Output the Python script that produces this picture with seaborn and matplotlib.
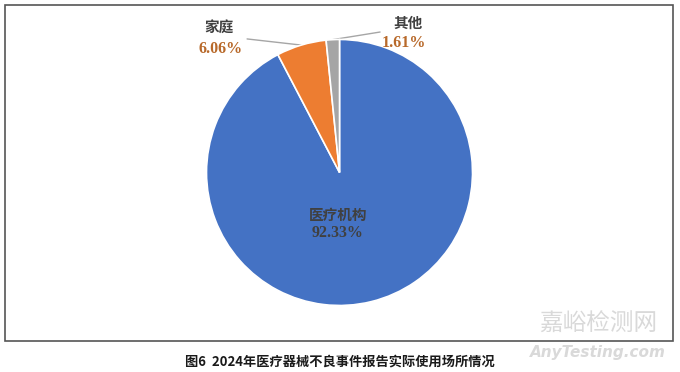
import numpy as np
import matplotlib
matplotlib.use('Agg')
import matplotlib.pyplot as plt
import seaborn as sns
from matplotlib.patches import Rectangle

# data
places = ['医疗机构', '家庭', '其他']
shares = [92.33, 6.06, 1.61]
pct_labels = ['92.33%', '6.06%', '1.61%']
slice_colors = ['#4472C4', '#ED7D31', '#A5A5A5']
caption = '图6  2024年医疗器械不良事件报告实际使用场所情况'

sns.set_theme(style='white')
plt.rcParams['font.family'] = ['Noto Sans CJK SC', 'DejaVu Sans']

fig = plt.figure(figsize=(6.8, 3.72), dpi=100)
fig.patch.set_facecolor('white')

# pie axes (square in pixels)
ax = fig.add_axes([0.3037, 0.1788, 0.3912, 0.7151])
wedges, _ = ax.pie(shares, colors=slice_colors, startangle=90, counterclock=False,
                   radius=1, wedgeprops=dict(edgecolor='white', linewidth=1.2))
ax.set_xlim(-1, 1)
ax.set_ylim(-1, 1)
ax.set_aspect('equal')
ax.axis('off')

name_font = dict(family=['Noto Sans CJK SC', 'DejaVu Sans'], fontweight='bold', fontsize=10.5)
num_font = dict(family=['Liberation Serif', 'DejaVu Serif'], fontweight='bold', fontsize=11.5)
dark = '#404040'
brown = '#B8692A'

# big slice label inside
ax.text(-0.011, -0.32, places[0], ha='center', va='center', color=dark, **name_font)
ax.text(-0.011, -0.455, pct_labels[0], ha='center', va='center', color=dark, **num_font)

# outside labels with leader lines
outside = {1: ((-0.906, 1.094), (-0.891, 0.929), (-0.695, 1.004)),
           2: ((0.515, 1.124), (0.485, 0.974), (0.305, 1.056))}
for i, (name_xy, pct_xy, line_start) in outside.items():
    w = wedges[i]
    mid = np.deg2rad((w.theta1 + w.theta2) / 2)
    ex, ey = np.cos(mid), np.sin(mid)
    ax.plot([line_start[0], ex], [line_start[1], ey], color='#A6A6A6', lw=1.0,
            clip_on=False, zorder=0)
    t1 = ax.text(*name_xy, places[i], ha='center', va='center', color=dark, **name_font)
    t2 = ax.text(*pct_xy, pct_labels[i], ha='center', va='center', color=brown, **num_font)
    t1.set_clip_on(False)
    t2.set_clip_on(False)

# chart frame
fig.add_artist(Rectangle((5 / 680, 1 - 341 / 372), 668 / 680, 336 / 372,
                         transform=fig.transFigure, fill=False,
                         edgecolor='#555555', linewidth=1.2))

# watermark
fig.text(598 / 680, 1 - 324 / 372, '嘉峪检测网', ha='center', va='center',
         fontsize=17, color='#D9D9D9', family=['Noto Sans CJK SC', 'DejaVu Sans'])
fig.text(598 / 680, 1 - 353 / 372, 'AnyTesting.com', ha='center', va='center',
         fontsize=11, color='#D9D9D9', style='italic', fontweight='bold',
         family=['DejaVu Sans'])

# caption
fig.text(340 / 680, 1 - 362 / 372, caption, ha='center', va='center',
         fontsize=9.5, fontweight='bold', color='#1a1a1a',
         family=['Noto Sans CJK SC', 'DejaVu Sans'])

fig.savefig('out.png', dpi=100, facecolor='white')
